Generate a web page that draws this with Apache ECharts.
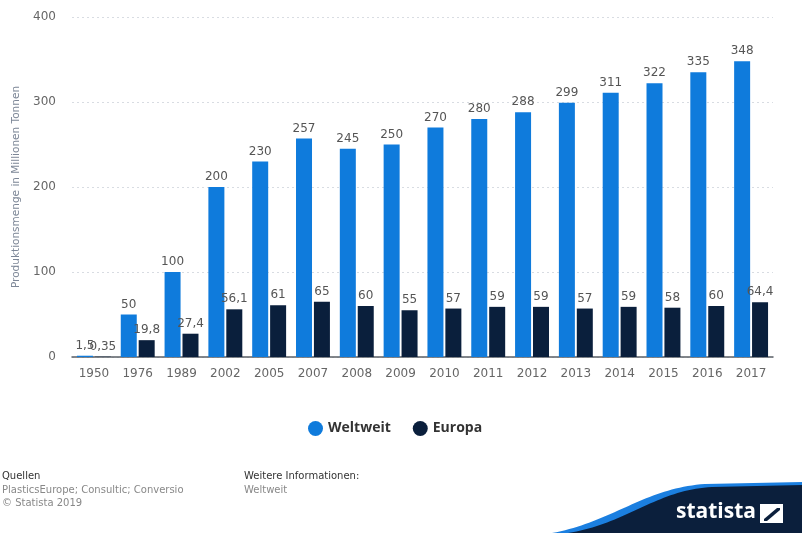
<!DOCTYPE html>
<html>
<head>
<meta charset="utf-8">
<script src="https://cdn.jsdelivr.net/npm/echarts@6/dist/echarts.min.js"></script>
<style>
  html, body { margin: 0; padding: 0; background: #fff; }
  #chart { width: 802px; height: 533px; }
</style>
</head>
<body>
<div id="chart"></div>
<script>
// Kunststoffproduktion weltweit und in Europa (Mio. Tonnen)
const years = ['1950','1976','1989','2002','2005','2007','2008','2009','2010','2011','2012','2013','2014','2015','2016','2017'];
const weltweit = [1.5, 50, 100, 200, 230, 257, 245, 250, 270, 280, 288, 299, 311, 322, 335, 348];
const europa = [0.35, 19.8, 27.4, 56.1, 61, 65, 60, 55, 57, 59, 59, 57, 59, 58, 60, 64.4];
const yTicks = [0, 100, 200, 300, 400];

const FONT = 'DejaVu Sans';
const deComma = v => String(v).replace('.', ',');

// Wellenform für das Logo: kubische Bézierkurve, als Polygon abgetastet
function wave(x0, y0, c1, c2, x1, y1) {
  const pts = [];
  for (let i = 0; i <= 40; i++) {
    const t = i / 40, u = 1 - t;
    pts.push([
      u*u*u*x0 + 3*u*u*t*c1[0] + 3*u*t*t*c2[0] + t*t*t*x1,
      u*u*u*y0 + 3*u*u*t*c1[1] + 3*u*t*t*c2[1] + t*t*t*y1
    ]);
  }
  pts.push([802, y1 - 2], [802, 533]);
  return pts;
}

const chart = echarts.init(document.getElementById('chart'), null, { renderer: 'canvas' });

const labelStyle = {
  show: true,
  position: 'top',
  distance: 4,
  color: '#555',
  fontFamily: FONT,
  fontSize: 12,
  formatter: p => deComma(p.value)
};

chart.setOption({
  animation: false,
  backgroundColor: '#fff',
  textStyle: { fontFamily: FONT },
  grid: { left: 72, right: 29, top: 17, bottom: 176 },
  legend: {
    data: ['Weltweit', 'Europa'],
    left: 303,
    top: 416,
    icon: 'circle',
    itemWidth: 15,
    itemHeight: 15,
    itemGap: 22,
    textStyle: { fontFamily: 'Open Sans', fontWeight: 'bold', fontSize: 14, color: '#333' }
  },
  xAxis: {
    type: 'category',
    data: years,
    axisLine: { lineStyle: { color: '#5a5f66', width: 1.5 } },
    axisTick: { show: false },
    axisLabel: { color: '#666', fontSize: 12, fontFamily: FONT, margin: 11 }
  },
  yAxis: {
    type: 'value',
    min: 0,
    max: 400,
    interval: 100,
    name: 'Produktionsmenge in Millionen Tonnen',
    nameLocation: 'middle',
    nameGap: 50,
    nameRotate: 90,
    nameTextStyle: { color: '#7d8797', fontSize: 10.5, fontFamily: FONT },
    axisLine: { show: false },
    axisTick: { show: false },
    axisLabel: {
      color: '#666', fontSize: 12, fontFamily: FONT, margin: 16,
      formatter: v => yTicks.includes(v) ? String(v) : ''
    },
    splitLine: { lineStyle: { color: '#d8dce2', type: [2, 3] } }
  },
  series: [
    {
      name: 'Weltweit',
      type: 'bar',
      data: weltweit,
      barWidth: 16,
      barGap: '12%',
      itemStyle: { color: '#0f7bdc' },
      label: labelStyle
    },
    {
      name: 'Europa',
      type: 'bar',
      data: europa,
      barWidth: 16,
      itemStyle: { color: '#0a1f3c' },
      label: labelStyle
    }
  ],
  graphic: [
    { type: 'text', left: 2, top: 471, style: { text: 'Quellen', fill: '#333', font: '10px "DejaVu Sans"' } },
    { type: 'text', left: 2, top: 485, style: { text: 'PlasticsEurope; Consultic; Conversio', fill: '#888', font: '10px "DejaVu Sans"' } },
    { type: 'text', left: 2, top: 498, style: { text: '\u00a9 Statista 2019', fill: '#888', font: '10px "DejaVu Sans"' } },
    { type: 'text', left: 244, top: 471, style: { text: 'Weitere Informationen:', fill: '#333', font: '10px "DejaVu Sans"' } },
    { type: 'text', left: 244, top: 485, style: { text: 'Weltweit', fill: '#888', font: '10px "DejaVu Sans"' } },
    // Logo-Welle unten rechts
    {
      type: 'polygon',
      shape: { points: wave(552, 533, [612, 522], [645, 488], 705, 484) },
      style: { fill: '#1b7fe0' }
    },
    {
      type: 'polygon',
      shape: { points: wave(568, 533, [626, 524], [656, 490], 712, 487) },
      style: { fill: '#0b1f3c' }
    },
    {
      type: 'text', x: 676, y: 523,
      style: { text: 'statista', fill: '#fff', font: 'bold 21px "Open Sans"', textVerticalAlign: 'bottom', verticalAlign: 'alphabetic' }
    },
    {
      type: 'polygon',
      shape: { points: [[760, 504], [783, 504], [783, 523], [760, 523]] },
      style: { fill: '#fff' }
    },
    {
      type: 'polygon',
      shape: { points: [[764, 519], [777, 508], [780, 508], [780, 510], [767, 521], [764, 521]] },
      style: { fill: '#0b1f3c' }
    }
  ]
});
</script>
</body>
</html>
